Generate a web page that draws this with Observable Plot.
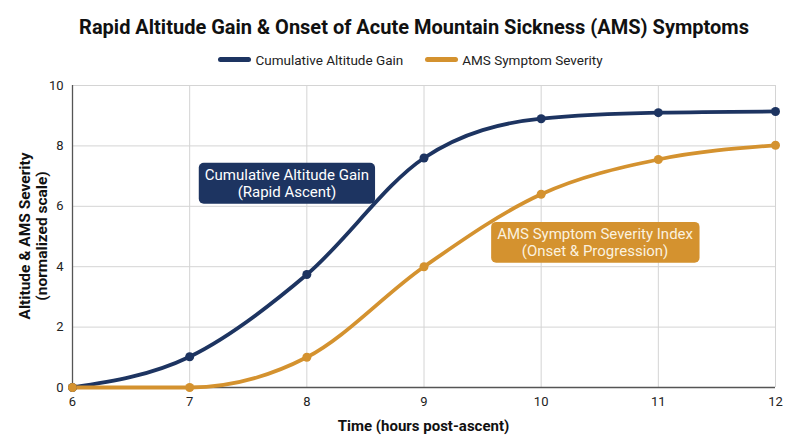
<!DOCTYPE html>
<html>
<head>
<meta charset="utf-8">
<script src="https://cdn.jsdelivr.net/npm/d3@7"></script>
<script src="https://cdn.jsdelivr.net/npm/@observablehq/plot@0.6"></script>
<style>
  html, body { margin: 0; padding: 0; background: #fff; }
  body { width: 800px; height: 447px; overflow: hidden; font-family: Roboto, "Noto Sans", sans-serif; }
  #title { text-align: center; font-weight: 700; font-size: 20px; color: #111; padding-top: 15px; height: 30px; padding-left: 28px; }
  #legend { display: flex; justify-content: center; gap: 22px; font-size: 13.5px; color: #222; height: 31px; align-items: center; margin-top: -1px; padding-left: 21px; }
  .sw { display: inline-block; width: 33px; height: 4.5px; border-radius: 3px; margin-right: 4px; vertical-align: middle; }
  .item { display: flex; align-items: center; }
  #chart svg { display: block; }
</style>
</head>
<body>
<div id="title"></div>
<div id="legend"></div>
<div id="chart"></div>
<script>
const hours = [6, 7, 8, 9, 10, 11, 12];
const altitudeGain = [0, 1.02, 3.74, 7.6, 8.9, 9.1, 9.14];
const amsSeverity = [0, 0, 1.0, 4.0, 6.4, 7.55, 8.02];
const seriesNames = ["Cumulative Altitude Gain", "AMS Symptom Severity"];
const seriesColors = ["#1d3461", "#d4922f"];
const xTicks = [6, 7, 8, 9, 10, 11, 12];
const yTicks = [0, 2, 4, 6, 8, 10];
const annotationLabels = ["Cumulative Altitude Gain\n(Rapid Ascent)", "AMS Symptom Severity Index\n(Onset & Progression)"];
const annotationX = [7.83, 10.46];
const annotationY = [6.78, 4.82];
const titleText = "Rapid Altitude Gain & Onset of Acute Mountain Sickness (AMS) Symptoms";
const xLabel = "Time (hours post-ascent)";
const yLabel = ["Altitude & AMS Severity", "(normalized scale)"];

document.getElementById("title").textContent = titleText;
const leg = document.getElementById("legend");
seriesNames.forEach((n, i) => {
  const d = document.createElement("div");
  d.className = "item";
  d.innerHTML = `<span class="sw" style="background:${seriesColors[i]}"></span><span>${n}</span>`;
  leg.appendChild(d);
});

const data = [];
hours.forEach((h, i) => {
  data.push({x: h, y: altitudeGain[i], s: seriesNames[0]});
  data.push({x: h, y: amsSeverity[i], s: seriesNames[1]});
});
const annots = annotationLabels.map((t, i) => ({x: annotationX[i], y: annotationY[i], t}));
const textColors = ["#ffffff", "#fbf1df"];

const W = 800, H = 371;
const plot = Plot.plot({
  width: W, height: H,
  marginTop: 10, marginBottom: 59, marginLeft: 72, marginRight: 25,
  style: {fontFamily: "Roboto, sans-serif", fontSize: "13px", color: "#222", background: "#fff"},
  x: {domain: [6, 12], ticks: xTicks, tickFormat: d3.format("d"), label: null},
  y: {domain: [0, 10], ticks: yTicks, tickFormat: d3.format("d"), label: null},
  color: {domain: seriesNames, range: seriesColors},
  marks: [
    Plot.gridX(xTicks, {stroke: "#d4d4d4", strokeOpacity: 1, strokeWidth: 1}),
    Plot.gridY(yTicks, {stroke: "#d4d4d4", strokeOpacity: 1, strokeWidth: 1}),
    Plot.axisX({ticks: xTicks, tickFormat: d3.format("d"), tickSize: 0, tickPadding: 9, fontSize: 13, fill: "#222", label: null}),
    Plot.axisY({ticks: yTicks, tickFormat: d3.format("d"), tickSize: 0, tickPadding: 9, fontSize: 13, fill: "#222", label: null}),
    Plot.ruleX([6], {stroke: "#555", strokeWidth: 1.3}),
    Plot.ruleY([0], {stroke: "#555", strokeWidth: 1.3}),
    Plot.line(data, {x: "x", y: "y", z: "s", stroke: "s", strokeWidth: 3.8, curve: "monotone-x"}),
    Plot.dot(data, {x: "x", y: "y", fill: "s", r: 4.5}),
    ...annots.map((a, i) => Plot.text([a], {x: "x", y: "y", text: "t", fill: textColors[i], fontSize: 15, lineHeight: 1.13, className: "annot annot" + i}))
  ]
});
document.getElementById("chart").appendChild(plot);

// Add rounded background boxes behind annotation texts
const svg = d3.select(plot);
annots.forEach((a, i) => {
  svg.selectAll("g.annot" + i + " text").each(function() {
    const bb = this.getBBox();
    const padX = 6, padY = 3;
    d3.select(this.parentNode).insert("rect", () => this)
      .attr("transform", this.getAttribute("transform"))
      .attr("x", bb.x - padX).attr("y", bb.y - padY)
      .attr("width", bb.width + 2 * padX).attr("height", bb.height + 2 * padY)
      .attr("rx", 5).attr("fill", seriesColors[i]);
  });
});

// Axis titles
svg.append("text").attr("x", 72 + 703 / 2).attr("y", 356)
  .attr("text-anchor", "middle").attr("font-weight", 700).attr("font-size", 15)
  .attr("fill", "#111").text(xLabel);
const yl = svg.append("text").attr("transform", `translate(37, ${10 + 302 / 2}) rotate(-90)`)
  .attr("text-anchor", "middle").attr("font-weight", 700).attr("font-size", 15.5).attr("fill", "#111");
yLabel.forEach((l, i) => yl.append("tspan").attr("x", 0).attr("dy", i === 0 ? "-0.45em" : "1.1em").text(l));
</script>
</body>
</html>
